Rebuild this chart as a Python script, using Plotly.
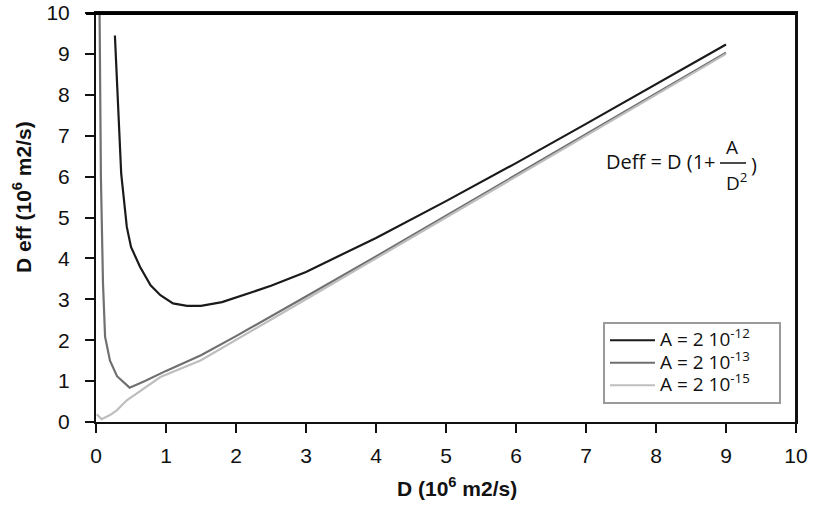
import plotly.graph_objects as go

# ---- data ----
d_a12 = [0.27, 0.31, 0.36, 0.44, 0.5, 0.63, 0.78, 0.92, 1.1, 1.3, 1.5, 1.8, 2.0, 2.5, 3, 4, 5, 6, 7, 8, 9]
v_a12 = [9.45, 8.1, 6.07, 4.77, 4.28, 3.79, 3.34, 3.10, 2.9, 2.84, 2.84, 2.93, 3.05, 3.33, 3.67, 4.5, 5.4, 6.33, 7.29, 8.25, 9.23]

d_a13 = [0.05, 0.07, 0.1, 0.13, 0.2, 0.3, 0.48, 0.7, 1.0, 1.5, 2.0, 2.5, 3, 4, 5, 6, 7, 8, 9]
v_a13 = [10.2, 6.0, 3.38, 2.08, 1.5, 1.12, 0.84, 1.0, 1.25, 1.63, 2.1, 2.58, 3.07, 4.05, 5.04, 6.03, 7.03, 8.03, 9.03]

d_a15 = [0.01, 0.08, 0.2, 0.3, 0.44, 0.6, 0.92, 1.5, 2, 3, 4, 5, 6, 7, 8, 9]
v_a15 = [0.19, 0.07, 0.17, 0.29, 0.53, 0.72, 1.1, 1.51, 2.0, 3.0, 4.0, 5.0, 6.0, 7.0, 8.0, 9.0]

series_names = ["A = 2 10<sup>-12</sup>", "A = 2 10<sup>-13</sup>", "A = 2 10<sup>-15</sup>"]
series_colors = ["#1a1a1a", "#707070", "#bebebe"]

x_ticks = list(range(0, 11))
y_ticks = list(range(0, 11))

fig = go.Figure()
for xs, ys, name, col in zip([d_a12, d_a13, d_a15], [v_a12, v_a13, v_a15], series_names, series_colors):
    label = '<span style="font-size:19px">' + name + "</span>" + "\u00a0" * 6
    fig.add_trace(go.Scatter(x=xs, y=ys, mode="lines", name=label,
                             line=dict(color=col, width=2.2)))

W, H = 819, 505
PL, PR, PT, PB = 96, 796, 13, 422          # plot area in screen pixels


def px(X):
    return (X - PL) / (PR - PL)


def py(Y):
    return (PB - Y) / (PB - PT)


tick_font = dict(family="Liberation Sans, Arial, sans-serif", size=21, color="#111")
axis_common = dict(range=[0, 10], tickmode="array", showgrid=False, zeroline=False,
                   showline=True, linecolor="#111", linewidth=2, mirror=True,
                   ticks="outside", ticklen=9, tickwidth=2, tickcolor="#111",
                   tickfont=tick_font, automargin=False, ticklabeloverflow="allow")

fig.update_xaxes(tickvals=x_ticks, ticktext=[str(t) for t in x_ticks], ticklabelstandoff=5, **axis_common)
fig.update_yaxes(tickvals=y_ticks, ticktext=[str(t) for t in y_ticks], ticklabelstandoff=11, **axis_common)

title_font = dict(family="Liberation Sans, Arial, sans-serif", size=21, color="#111")
formula_font = dict(family="Open Sans, sans-serif", size=20, color="#111")
frac_font = dict(family="Open Sans, sans-serif", size=19, color="#111")

annotations = [
    dict(text="<b>D (10<sup>6</sup> m2/s)</b>", x=px(457), y=py(487), xref="paper", yref="paper",
         xanchor="center", yanchor="middle", showarrow=False, font=title_font),
    dict(text="<b>D eff (10<sup>6</sup> m2/s)</b>", x=px(22), y=py(197), xref="paper", yref="paper",
         xanchor="center", yanchor="middle", textangle=-90, showarrow=False, font=title_font),
    dict(text="Deff = D (1+", x=px(604), y=py(162), xref="paper", yref="paper",
         xanchor="left", yanchor="middle", showarrow=False, font=formula_font),
    dict(text="A", x=px(732), y=py(147), xref="paper", yref="paper",
         xanchor="center", yanchor="middle", showarrow=False, font=frac_font),
    dict(text="D<sup>2</sup>", x=px(736), y=py(182), xref="paper", yref="paper",
         xanchor="center", yanchor="middle", showarrow=False, font=frac_font),
    dict(text=")", x=px(754), y=py(164), xref="paper", yref="paper",
         xanchor="center", yanchor="middle", showarrow=False, font=formula_font),
]

fig.update_layout(
    width=W, height=H,
    margin=dict(l=PL, r=W - PR, t=PT, b=H - PB),
    paper_bgcolor="white", plot_bgcolor="white",
    showlegend=True,
    legend=dict(x=px(603), y=py(322), xanchor="left", yanchor="top",
                bgcolor="white", bordercolor="#9a9a9a", borderwidth=2,
                font=dict(family="Open Sans, sans-serif", size=15, color="#111"),
                tracegroupgap=0, itemwidth=45),
    annotations=annotations,
    shapes=[
        dict(type="line", xref="paper", yref="paper",
             x0=px(720), x1=px(746), y0=py(163), y1=py(163),
             line=dict(color="#111", width=1.5)),
        dict(type="line", xref="paper", yref="paper", x0=px(86), x1=1.0015, y0=py(13.5), y1=py(13.5),
             line=dict(color="#000", width=3), layer="above"),
        dict(type="line", xref="paper", yref="paper", x0=1, x1=1, y0=0, y1=1,
             line=dict(color="#111", width=2), layer="above"),
    ],
)

fig.write_html("out.html", config={"displayModeBar": False},
               post_script="document.body.style.margin='0px';")
